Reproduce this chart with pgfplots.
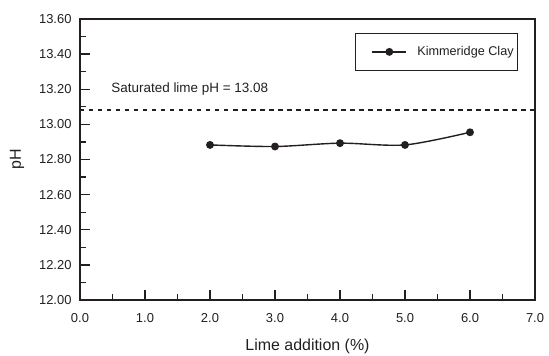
\documentclass[border=0pt]{standalone}
\usepackage{fontspec}
\setmainfont{Liberation Sans}
\usepackage{pgfplots}
\pgfplotsset{compat=1.18}
\definecolor{ink}{HTML}{231F20}

\begin{document}
\begin{tikzpicture}
% fixed page frame around the plot area
\path[use as bounding box] (-80bp,-56bp) rectangle (469bp,300bp);
\begin{axis}[
  at={(0,0)}, anchor=south west,
  scale only axis,
  width=455bp, height=281bp,
  xmin=0, xmax=7, ymin=12.0, ymax=13.6,
  xtick={0,1,...,7},
  ytick={12.0,12.2,...,13.61},
  minor x tick num=1,
  minor y tick num=1,
  tick align=inside,
  xtick pos=lower, ytick pos=left,
  major tick length=10bp,
  minor tick length=6bp,
  every tick/.style={ink, line width=1.3bp},
  axis line style={ink, line width=1.5bp},
  /pgf/number format/assume math mode=true,
  xticklabel style={font=\fontsize{13}{15}\selectfont, ink, yshift=-10bp,
    /pgf/number format/.cd, fixed, fixed zerofill, precision=1},
  yticklabel style={font=\fontsize{13}{15}\selectfont, ink, xshift=-5bp,
    /pgf/number format/.cd, fixed, fixed zerofill, precision=2},
  xlabel={Lime addition (\%)},
  ylabel={pH},
  label style={font=\fontsize{16}{18}\selectfont, ink},
  xlabel style={at={(axis description cs:0.5,0)}, anchor=center, yshift=-46bp},
  ylabel style={at={(axis description cs:-0.1385,0.5)}, anchor=center},
  legend style={at={(rel axis cs:0.963,0.95)}, anchor=north east,
    draw=ink, line width=1bp, inner xsep=2bp, inner ysep=11bp,
    font=\fontsize{12.7}{14}\selectfont, text=ink},
  legend cell align=left,
  legend image code/.code={%
    \path[draw=none, fill=none] (-15bp,0bp) -- (43bp,0bp);
    \draw[#1, mark repeat=2, mark phase=2]
      plot coordinates {(0bp,0bp) (17bp,0bp) (34bp,0bp)};},
  clip=false,
]
% saturated lime reference level
\addplot[ink, line width=1.7bp, dash pattern=on 4.5bp off 4.5bp, forget plot]
  coordinates {(0,13.08) (7,13.08)};
\node[anchor=base west, font=\fontsize{13.5}{15}\selectfont, text=ink]
  at (axis cs:0.43,13.18) {Saturated lime pH = 13.08};

\addplot[ink, line width=1.4bp, smooth, tension=0.5,
  mark=*, mark size=3.2bp, mark options={fill=ink, draw=ink}]
  coordinates {
    (2,12.883)
    (3,12.874)
    (4,12.893)
    (5,12.883)
    (6,12.955)
  };
\addlegendentry{Kimmeridge Clay}
\end{axis}
\end{tikzpicture}
\end{document}
